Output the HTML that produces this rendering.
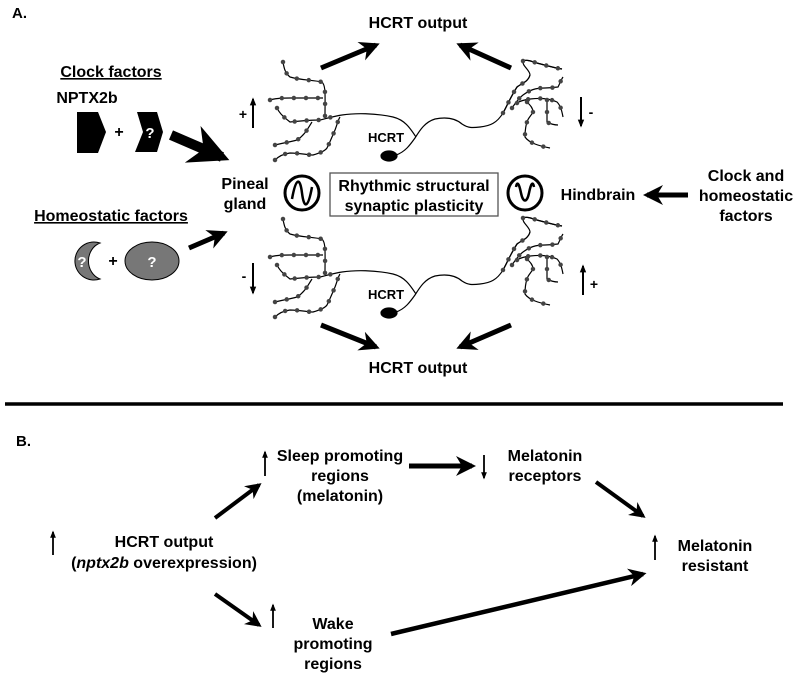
<!DOCTYPE html>
<html><head><meta charset="utf-8"><style>
html,body{margin:0;padding:0;background:#fff;}
svg{display:block;}
text{font-family:"Liberation Sans",Arial,sans-serif;font-weight:bold;fill:#000;}
</style></head><body>
<svg width="800" height="678" viewBox="0 0 800 678" xmlns="http://www.w3.org/2000/svg">
<defs>
<marker id="h" viewBox="0 0 10 10" refX="8" refY="5" markerWidth="4" markerHeight="4" orient="auto" markerUnits="strokeWidth">
<path d="M0,0 L10,5 L0,10 L3,5 z" fill="#000"/></marker>
<marker id="t" viewBox="0 0 10 10" refX="8" refY="5" markerWidth="4" markerHeight="5" orient="auto" markerUnits="strokeWidth">
<path d="M0,1 L10,5 L0,9 z" fill="#000"/></marker>
<g id="neuron" fill="none" stroke="#000" stroke-width="1.2">
<ellipse cx="389" cy="156" rx="8" ry="5" fill="#000"/>
<path d="M396,155 C405,152 410,145 415,138 C420,130 425,122 435,119 C445,117 455,118 462,124 C468,128 472,128 480,127 C490,126 497,123 503,113 C507,106 510,98 517,87 C522,83 528,82 530,75 C530,70 522,66 523,61 C527,59 533,62 537,63 C548,66 555,68 562,69"/>
<path d="M416,137 C410,128 405,120 393,117 C375,113 355,113 342,115"/>
<g id="dend">
<path d="M283,62 C284,68 285,73 290,77 C300,80 312,80 322,82 C326,86 325,95 325,117"/>
<path d="M270,100 C273,99 277,98 290,98 C305,98 315,98 323,98"/>
<path d="M277,108 C279,112 281,115 290,122 C300,121 310,120 320,120 C328,118 335,116 342,115"/>
<path d="M275,145 C283,143 290,142 297,140 C305,135 308,128 312,122"/>
<path d="M275,160 C278,157 282,154 290,153 C300,153 308,155 313,155 C320,153 325,151 327,148 C330,142 332,137 335,130 C337,125 338,120 340,117"/>
<path d="M512,108 C516,102 519,98 523,95 C530,90 535,88 545,88 C552,88 556,87 558,87 C560,83 561,80 563,77"/>
<path d="M517,103 C520,101 523,100 530,99 C540,98 548,98 557,102 C561,106 562,112 563,117"/>
<path d="M547,100 C547,110 547,117 547,122 C550,124 555,125 558,125"/>
<path d="M527,102 C530,105 533,108 533,112 C531,116 528,118 527,122 C525,128 525,133 525,137 C527,140 530,142 535,144 C540,146 545,147 550,148"/>
<path d="M523,61 C527,59 533,62 537,63 C548,66 555,68 562,69"/>
<path d="M503,113 C507,106 510,98 517,87 C522,83 528,82 530,75"/>
</g>
<use href="#dend" stroke="#444" stroke-width="4.5" stroke-linecap="round" stroke-dasharray="0 12"/>
</g>
</defs>

<text x="12" y="18" font-size="15">A.</text>
<text x="418" y="28" font-size="16" text-anchor="middle">HCRT output</text>
<line x1="321" y1="68" x2="376" y2="45" stroke="#000" stroke-width="5" marker-end="url(#h)"/>
<line x1="511" y1="68" x2="460" y2="45" stroke="#000" stroke-width="5" marker-end="url(#h)"/>

<text x="111" y="77" font-size="16" text-anchor="middle" text-decoration="underline">Clock factors</text>
<text x="87" y="103" font-size="16" text-anchor="middle">NPTX2b</text>
<polygon points="77,112 98,112 106,132 98,153 77,153" fill="#000"/>
<text x="119" y="137" font-size="16" text-anchor="middle">+</text>
<polygon points="137,112 157,112 163,132 157,152 135,152 143,132" fill="#000"/>
<text x="150" y="138" font-size="15" text-anchor="middle" style="fill:#fff">?</text>
<line x1="171" y1="135" x2="222" y2="157" stroke="#000" stroke-width="10" marker-end="url(#h)"/>

<text x="111" y="221" font-size="16" text-anchor="middle" text-decoration="underline">Homeostatic factors</text>
<path d="M100,243 A19,19 0 1 0 100,279 A17,19 0 0 1 100,243 z" fill="#777" stroke="#000" stroke-width="1"/>
<text x="82" y="267" font-size="15" text-anchor="middle" style="fill:#fff">?</text>
<text x="113" y="266" font-size="16" text-anchor="middle">+</text>
<ellipse cx="152" cy="261" rx="27" ry="19" fill="#777" stroke="#000" stroke-width="1"/>
<text x="152" y="267" font-size="15" text-anchor="middle" style="fill:#fff">?</text>
<line x1="189" y1="248" x2="224" y2="233" stroke="#000" stroke-width="5" marker-end="url(#h)"/>

<use href="#neuron"/>
<use href="#neuron" transform="translate(0,157)"/>
<text x="386" y="142" font-size="13" text-anchor="middle">HCRT</text>
<text x="386" y="299" font-size="13" text-anchor="middle">HCRT</text>

<line x1="253" y1="128" x2="253" y2="99" stroke="#000" stroke-width="2" marker-end="url(#t)"/>
<text x="243" y="119" font-size="14" text-anchor="middle">+</text>
<line x1="581" y1="97" x2="581" y2="126" stroke="#000" stroke-width="2" marker-end="url(#t)"/>
<text x="591" y="117" font-size="14" text-anchor="middle">-</text>
<line x1="253" y1="263" x2="253" y2="293" stroke="#000" stroke-width="2" marker-end="url(#t)"/>
<text x="244" y="281" font-size="14" text-anchor="middle">-</text>
<line x1="583" y1="295" x2="583" y2="266" stroke="#000" stroke-width="2" marker-end="url(#t)"/>
<text x="594" y="289" font-size="14" text-anchor="middle">+</text>

<text x="245" y="189" font-size="16" text-anchor="middle">Pineal</text>
<text x="245" y="209" font-size="16" text-anchor="middle">gland</text>
<g transform="translate(302,193)" fill="none" stroke="#000" stroke-width="3">
<circle r="17"/>
<path d="M-10,6 C-6,-16 -2,-16 0,0 C2,16 6,16 10,-6" stroke-width="2.5"/>
</g>
<rect x="330" y="173" width="168" height="43" fill="none" stroke="#555" stroke-width="1.3"/>
<text x="414" y="191" font-size="16" text-anchor="middle">Rhythmic structural</text>
<text x="414" y="211" font-size="16" text-anchor="middle">synaptic plasticity</text>
<g transform="translate(525,193)" fill="none" stroke="#000" stroke-width="3">
<circle r="17"/>
<path d="M-9,-6 C-8,-12 -6,-10 -4,0 C-2,10 2,10 4,0 C6,-10 8,-12 9,-6" stroke-width="2.5"/>
</g>
<text x="598" y="200" font-size="16" text-anchor="middle">Hindbrain</text>
<line x1="688" y1="195" x2="647" y2="195" stroke="#000" stroke-width="5" marker-end="url(#h)"/>
<text x="746" y="181" font-size="16" text-anchor="middle">Clock and</text>
<text x="746" y="201" font-size="16" text-anchor="middle">homeostatic</text>
<text x="746" y="221" font-size="16" text-anchor="middle">factors</text>

<line x1="321" y1="325" x2="376" y2="347" stroke="#000" stroke-width="5" marker-end="url(#h)"/>
<line x1="511" y1="325" x2="460" y2="347" stroke="#000" stroke-width="5" marker-end="url(#h)"/>
<text x="418" y="373" font-size="16" text-anchor="middle">HCRT output</text>

<line x1="5" y1="404" x2="783" y2="404" stroke="#000" stroke-width="3.5"/>

<text x="16" y="446" font-size="15">B.</text>
<line x1="265" y1="476" x2="265" y2="452" stroke="#000" stroke-width="1.8" marker-end="url(#t)"/>
<text x="340" y="461" font-size="16" text-anchor="middle">Sleep promoting</text>
<text x="340" y="481" font-size="16" text-anchor="middle">regions</text>
<text x="340" y="501" font-size="16" text-anchor="middle">(melatonin)</text>
<line x1="215" y1="518" x2="259" y2="485" stroke="#000" stroke-width="4" marker-end="url(#h)"/>
<line x1="409" y1="466" x2="472" y2="466" stroke="#000" stroke-width="5" marker-end="url(#h)"/>
<line x1="484" y1="455" x2="484" y2="478" stroke="#000" stroke-width="1.8" marker-end="url(#t)"/>
<text x="545" y="461" font-size="16" text-anchor="middle">Melatonin</text>
<text x="545" y="481" font-size="16" text-anchor="middle">receptors</text>
<line x1="596" y1="482" x2="643" y2="516" stroke="#000" stroke-width="4" marker-end="url(#h)"/>

<line x1="53" y1="555" x2="53" y2="532" stroke="#000" stroke-width="1.8" marker-end="url(#t)"/>
<text x="164" y="547" font-size="16" text-anchor="middle">HCRT output</text>
<text x="164" y="568" font-size="16" text-anchor="middle">(<tspan font-style="italic">nptx2b</tspan> overexpression)</text>

<line x1="655" y1="560" x2="655" y2="536" stroke="#000" stroke-width="1.8" marker-end="url(#t)"/>
<text x="715" y="551" font-size="16" text-anchor="middle">Melatonin</text>
<text x="715" y="571" font-size="16" text-anchor="middle">resistant</text>

<line x1="215" y1="594" x2="259" y2="625" stroke="#000" stroke-width="4" marker-end="url(#h)"/>
<line x1="273" y1="628" x2="273" y2="605" stroke="#000" stroke-width="1.8" marker-end="url(#t)"/>
<text x="333" y="629" font-size="16" text-anchor="middle">Wake</text>
<text x="333" y="649" font-size="16" text-anchor="middle">promoting</text>
<text x="333" y="669" font-size="16" text-anchor="middle">regions</text>
<line x1="391" y1="634" x2="643" y2="574" stroke="#000" stroke-width="4.5" marker-end="url(#h)"/>
</svg>
</body></html>
